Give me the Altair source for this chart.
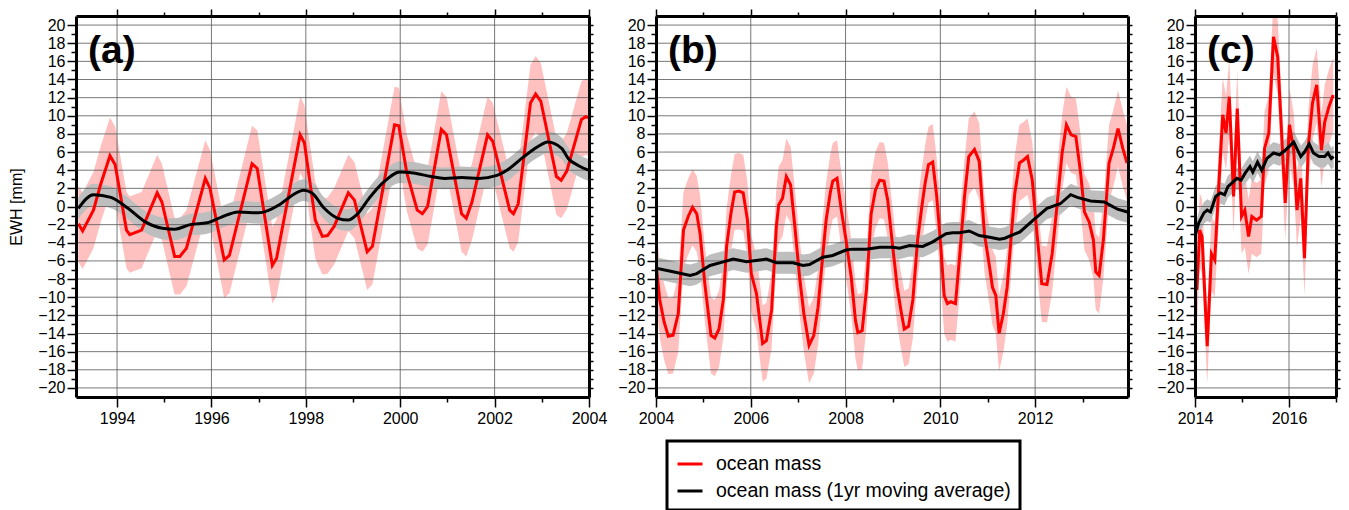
import math
import altair as alt
import pandas as pd

# ---------------- data ----------------
# panel (a) 1993-2004 : ocean mass (red) and 1yr moving average (black)
a_t = [1993.18, 1993.27, 1993.5, 1993.65, 1993.85, 1993.96, 1994.2, 1994.27, 1994.52, 1994.85,
       1994.95, 1995.22, 1995.33, 1995.47, 1995.87, 1995.97, 1996.27, 1996.38, 1996.86, 1996.97,
       1997.29, 1997.38, 1997.88, 1997.97, 1998.2, 1998.35, 1998.46, 1998.6, 1998.9, 1999.03,
       1999.3, 1999.41, 1999.88, 1999.97, 2000.14, 2000.36, 2000.47, 2000.58, 2000.87, 2000.98,
       2001.3, 2001.4, 2001.52, 2001.85, 2001.96, 2002.32, 2002.4, 2002.5, 2002.76, 2002.87,
       2002.98, 2003.31, 2003.41, 2003.53, 2003.84, 2003.93, 2003.99]
a_v = [-1.9, -2.7, -0.4, 2.4, 5.6, 4.6, -2.6, -3.1, -2.6, 1.5,
       0.5, -5.5, -5.5, -4.6, 3.1, 2.0, -5.9, -5.4, 4.7, 4.2,
       -6.5, -5.7, 7.9, 7.0, -1.5, -3.3, -3.2, -2.2, 1.5, 0.7,
       -5.0, -4.4, 9.0, 8.9, 3.7, -0.4, -0.8, 0.0, 8.5, 7.9,
       -0.8, -1.3, 0.5, 7.9, 7.2, -0.4, -0.8, 0.3, 11.4, 12.4,
       11.6, 3.3, 2.9, 3.9, 9.6, 9.9, 9.8]
a_err = 4.2
a_avg_t = [1993.18, 1993.5, 1993.87, 1994.23, 1994.6, 1994.96, 1995.22, 1995.55, 1995.91, 1996.2,
           1996.57, 1997.0, 1997.44, 1997.73, 1997.95, 1998.13, 1998.39, 1998.68, 1998.9, 1999.08,
           1999.34, 1999.63, 2000.0, 2000.28, 2000.65, 2000.94, 2001.3, 2001.67, 2002.03, 2002.26,
           2002.62, 2002.98, 2003.12, 2003.42, 2003.56, 2003.78, 2003.99]
a_avg_v = [-0.2, 1.3, 1.0, -0.2, -1.7, -2.4, -2.5, -2.0, -1.8, -1.2,
           -0.6, -0.7, 0.2, 1.3, 1.8, 1.5, -0.2, -1.3, -1.5, -0.9,
           0.9, 2.6, 3.8, 3.7, 3.3, 3.1, 3.2, 3.1, 3.4, 4.0,
           5.5, 6.8, 7.1, 6.4, 5.3, 4.5, 4.0]
a_avg_err = 1.2

# panel (b) 2004-2014
b_t = [2004.0, 2004.08, 2004.17, 2004.26, 2004.36, 2004.47, 2004.58, 2004.68, 2004.77, 2004.86,
       2004.93, 2005.03, 2005.16, 2005.24, 2005.33, 2005.42, 2005.49, 2005.58, 2005.66, 2005.75,
       2005.84, 2005.93, 2006.01, 2006.12, 2006.25, 2006.33, 2006.44, 2006.54, 2006.59, 2006.67,
       2006.75, 2006.84, 2006.93, 2007.03, 2007.12, 2007.23, 2007.33, 2007.42, 2007.51, 2007.59,
       2007.68, 2007.73, 2007.82, 2007.91, 2008.01, 2008.12, 2008.21, 2008.26, 2008.35, 2008.44,
       2008.54, 2008.63, 2008.72, 2008.81, 2008.89, 2008.98, 2009.09, 2009.17, 2009.24, 2009.33,
       2009.42, 2009.52, 2009.61, 2009.68, 2009.75, 2009.84, 2009.92, 2010.01, 2010.08, 2010.15,
       2010.22, 2010.32, 2010.4, 2010.51, 2010.6, 2010.72, 2010.82, 2010.93, 2011.04, 2011.1,
       2011.17, 2011.24, 2011.33, 2011.41, 2011.5, 2011.57, 2011.67, 2011.75, 2011.84, 2011.94,
       2012.04, 2012.14, 2012.25, 2012.36, 2012.46, 2012.57, 2012.66, 2012.76, 2012.86, 2012.96,
       2013.04, 2013.14, 2013.23, 2013.28, 2013.35, 2013.44, 2013.56, 2013.65, 2013.75, 2013.85,
       2013.94]
b_v = [-6.3, -10.3, -12.7, -14.3, -14.2, -11.8, -2.6, -1.1, -0.1, -0.8,
       -3.0, -8.5, -14.2, -14.5, -13.5, -10.3, -4.4, -0.8, 1.6, 1.7,
       1.5, -1.5, -7.4, -9.6, -15.1, -14.8, -11.4, -2.2, 0.2, 0.9,
       3.3, 2.4, -2.2, -7.8, -11.8, -15.3, -14.2, -11.1, -5.9, -1.5,
       1.6, 2.8, 3.1, -0.4, -3.7, -7.8, -12.6, -13.9, -13.7, -9.2,
       -0.8, 1.8, 2.9, 2.8, 0.7, -3.7, -8.9, -11.5, -13.5, -13.2,
       -10.3, -3.7, 0.0, 2.6, 4.6, 4.9, 1.3, -4.4, -9.8, -10.7,
       -10.5, -10.7, -5.9, 1.1, 5.5, 6.3, 5.0, -3.0, -6.7, -8.9,
       -9.8, -14.0, -11.8, -8.9, -3.0, 1.4, 4.8, 5.1, 5.5, 2.9,
       -3.0, -8.5, -8.6, -5.2, 0.0, 5.9, 9.0, 7.9, 7.7, 3.7,
       -0.6, -1.7, -3.7, -7.2, -7.6, -3.7, 4.8, 6.4, 8.6, 6.4,
       4.8]
b_err = 4.2
b_avg_t = [2004.0, 2004.36, 2004.72, 2004.86, 2005.14, 2005.42, 2005.63, 2005.91, 2006.19, 2006.33,
           2006.54, 2006.89, 2007.1, 2007.24, 2007.52, 2007.73, 2008.01, 2008.15, 2008.44, 2008.72,
           2009.0, 2009.14, 2009.35, 2009.63, 2009.84, 2010.12, 2010.26, 2010.4, 2010.61, 2010.82,
           2011.04, 2011.25, 2011.36, 2011.68, 2011.96, 2012.25, 2012.53, 2012.75, 2012.89, 2013.17,
           2013.46, 2013.6, 2013.74, 2013.95]
b_avg_v = [-6.8, -7.2, -7.6, -7.4, -6.5, -6.1, -5.8, -6.1, -5.9, -5.8,
           -6.2, -6.2, -6.5, -6.4, -5.6, -5.4, -4.8, -4.7, -4.7, -4.5,
           -4.5, -4.6, -4.3, -4.4, -3.9, -3.0, -2.9, -2.9, -2.7, -3.2,
           -3.4, -3.6, -3.5, -2.8, -1.5, -0.2, 0.3, 1.3, 1.0, 0.6,
           0.5, 0.1, -0.3, -0.6]
b_avg_err = 1.2

# panel (c) 2014-2017
c_t = [2014.0, 2014.04, 2014.1, 2014.15, 2014.26, 2014.35, 2014.42, 2014.51, 2014.59, 2014.66,
       2014.73, 2014.82, 2014.9, 2014.99, 2015.06, 2015.14, 2015.21, 2015.31, 2015.41, 2015.48,
       2015.57, 2015.67, 2015.76, 2015.85, 2015.92, 2016.01, 2016.1, 2016.17, 2016.25, 2016.33,
       2016.41, 2016.5, 2016.59, 2016.69, 2016.76, 2016.85, 2016.94]
c_v = [-5.5, -9.2, -2.6, -3.3, -15.4, -5.2, -5.9, 2.6, 10.1, 8.1,
       12.1, 1.1, 10.8, -1.1, -0.4, -3.3, -1.1, -1.5, -1.1, 6.4,
       8.1, 18.7, 16.5, 7.3, 0.4, 9.0, 6.2, -0.4, 3.1, -5.7,
       6.6, 11.4, 13.4, 6.2, 9.3, 11.0, 12.3]
c_err = 4.1
c_avg_t = [2014.0, 2014.08, 2014.19, 2014.26, 2014.33, 2014.44, 2014.54, 2014.63, 2014.7, 2014.79,
           2014.89, 2014.98, 2015.07, 2015.17, 2015.23, 2015.33, 2015.42, 2015.53, 2015.67, 2015.8,
           2015.92, 2016.1, 2016.25, 2016.33, 2016.43, 2016.52, 2016.64, 2016.76, 2016.83, 2016.9,
           2016.95]
c_avg_v = [-3.3, -1.8, -0.7, -0.4, -0.6, 1.1, 1.5, 1.3, 2.2, 2.6,
           3.1, 2.9, 3.7, 4.4, 3.8, 4.9, 4.0, 5.3, 5.9, 5.7,
           6.2, 7.1, 5.5, 6.0, 6.9, 5.9, 5.5, 5.5, 5.9, 5.3,
           5.5]
c_avg_err = 1.2

panel_labels = ["(a)", "(b)", "(c)"]
series_names = ["ocean mass", "ocean mass (1yr moving average)"]
y_title = "EWH [mm]"

# ---------------- styling ----------------
FONT = "Liberation Sans"
Y_DOMAIN = [-21, 21]
Y_TICKS = list(range(-20, 21))
Y_GRID = list(range(-20, 21, 2))
PLOT_H = 381
color_scale = alt.Scale(domain=series_names, range=["#ff0000", "#000000"])
EVEN_LABEL = "datum.value % 2 == 0 ? replace(datum.label, '-', '\u2212') : ''"


def even_cond(big, small):
    return {"condition": {"test": "datum.value % 2 == 0", "value": big}, "value": small}


def mk_axis(**kw):
    base = dict(domainColor="black", domainWidth=3, tickColor="black", tickWidth=1.5,
                grid=False, zindex=2, labelFont=FONT, labelFontSize=16, labelColor="black",
                labelOverlap=False, labelFlush=False, labelBound=False, title=None)
    base.update(kw)
    return alt.Axis(**base)


def make_panel(label, t, v, err, at, av, aerr, xdom, width, first, legend, smooth):
    red = pd.DataFrame({"t": t, "v": v})
    red["lo"] = red["v"] - err
    red["hi"] = red["v"] + err
    red["s"] = series_names[0]
    avg = pd.DataFrame({"t": at, "v": av})
    avg["lo"] = avg["v"] - aerr
    avg["hi"] = avg["v"] + aerr
    avg["s"] = series_names[1]

    xs = alt.Scale(domain=xdom, nice=False, zero=False)
    ys = alt.Scale(domain=Y_DOMAIN, nice=False, zero=False)
    years = list(range(int(math.ceil(xdom[0])), int(math.floor(xdom[1])) + 1))
    gx = pd.DataFrame({"g": [y for y in years if y % 2 == 0]})
    gy = pd.DataFrame({"g": Y_GRID})

    X = lambda f: alt.X(f, type="quantitative", scale=xs, axis=None)
    Y = lambda f: alt.Y(f, type="quantitative", scale=ys, axis=None)

    band_red = alt.Chart(red).mark_area(color="#ffc0c0", clip=True).encode(
        x=X("t"), y=Y("lo"), y2="hi")
    band_avg = alt.Chart(avg).mark_area(color="#bebebe", clip=True,
                                        interpolate="monotone" if smooth else "linear").encode(
        x=X("t"), y=Y("lo"), y2="hi")
    grid_v = alt.Chart(gx).mark_rule(color="#555555", strokeWidth=0.8).encode(x=X("g"))
    grid_h = alt.Chart(gy).mark_rule(color="#555555", strokeWidth=0.8).encode(y=Y("g"))

    leg = None
    if legend:
        leg = alt.Legend(title=None, orient="none", legendX=11, legendY=425,
                         direction="vertical", symbolType="stroke", symbolStrokeWidth=3,
                         symbolSize=625, labelFont=FONT, labelFontSize=19.5, labelColor="black",
                         strokeColor="black", fillColor="white", padding=9, rowPadding=3,
                         labelOffset=12, labelLimit=500)
    line_red = alt.Chart(red).mark_line(strokeWidth=3, clip=True).encode(
        x=X("t"), y=Y("v"), color=alt.Color("s:N", scale=color_scale, legend=leg))
    line_avg = alt.Chart(avg).mark_line(strokeWidth=3, clip=True,
                                        interpolate="monotone" if smooth else "linear").encode(
        x=X("t"), y=Y("v"), color=alt.Color("s:N", scale=color_scale, legend=None))

    txt = alt.Chart(pd.DataFrame({"label": [label]})).mark_text(
        font=FONT, fontSize=39, fontWeight="bold", align="left", baseline="middle",
        color="black").encode(text="label:N", x=alt.value(12), y=alt.value(35))

    bottom = mk_axis(orient="bottom", values=years, format="d", labelExpr=EVEN_LABEL,
                     tickSize=even_cond(10, 5), labelPadding=3)
    left_kw = dict(orient="left", values=Y_TICKS, labelExpr=EVEN_LABEL,
                   tickSize=even_cond(9, 5), labelPadding=2)
    if first:
        left_kw.update(title=y_title, titleFont=FONT, titleFontSize=16,
                       titleFontWeight="normal", titleColor="black", titlePadding=13)
    left = mk_axis(**left_kw)
    top = mk_axis(orient="top", values=years, labels=False, tickSize=even_cond(7, 4))
    right = mk_axis(orient="right", values=Y_TICKS, labels=False, tickSize=4)

    axes_bl = alt.Chart(red).mark_point(opacity=0).encode(
        x=alt.X("t:Q", scale=xs, axis=bottom), y=alt.Y("v:Q", scale=ys, axis=left))
    axes_tr = alt.Chart(red).mark_point(opacity=0).encode(
        x=alt.X("t:Q", scale=xs, axis=top), y=alt.Y("v:Q", scale=ys, axis=right))

    return alt.layer(band_red, band_avg, grid_v, grid_h, line_red, line_avg, txt,
                     axes_bl, axes_tr).resolve_axis(
        x="independent", y="independent").properties(width=width, height=PLOT_H)


pa = make_panel(panel_labels[0], a_t, a_v, a_err, a_avg_t, a_avg_v, a_avg_err,
                [1993.13, 2004.0], 513, True, False, True)
pb = make_panel(panel_labels[1], b_t, b_v, b_err, b_avg_t, b_avg_v, b_avg_err,
                [2004.0, 2013.96], 472, False, True, False)
pc = make_panel(panel_labels[2], c_t, c_v, c_err, c_avg_t, c_avg_v, c_avg_err,
                [2014.0, 2017.0], 141, False, False, False)

chart = alt.hconcat(pa, pb, pc, spacing=67, bounds="flush").resolve_scale(
    color="independent").resolve_legend(color="independent").properties(
    padding={"left": 0, "top": 0, "right": 0, "bottom": 0}
).configure_view(strokeWidth=0).configure_legend(strokeWidth=3)

chart.save("out.html", embed_options={"renderer": "svg", "actions": False})
